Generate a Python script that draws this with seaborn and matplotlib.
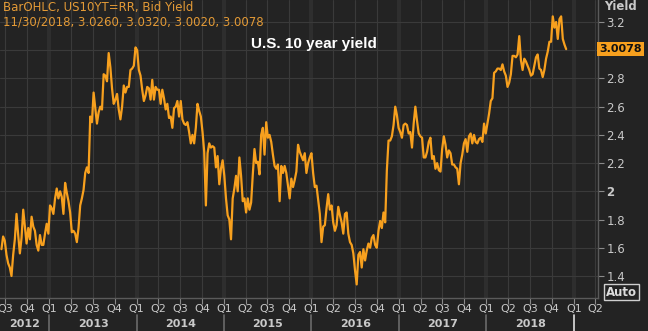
import matplotlib
matplotlib.use("Agg")
import matplotlib.pyplot as plt
import matplotlib.transforms as mtransforms
import numpy as np
import pandas as pd
import seaborn as sns

# Weekly (Friday) closes of the US 10-year Treasury bid yield, per calendar year
y2012 = [1.59, 1.68, 1.65,
         1.55, 1.49, 1.46, 1.40,
         1.55, 1.66, 1.84, 1.69, 1.56,
         1.67, 1.87, 1.75, 1.63,
         1.74, 1.66, 1.82, 1.75,
         1.72, 1.62, 1.58, 1.69, 1.62,
         1.62, 1.70, 1.77, 1.70]
y2013 = [1.90, 1.88, 1.84, 1.95,
         2.02, 1.95, 2.00, 1.96,
         1.84, 2.06, 1.99, 1.93, 1.85,
         1.71, 1.72, 1.70, 1.64,
         1.74, 1.90, 1.95, 2.01, 2.13,
         2.17, 2.13, 2.53, 2.49,
         2.70, 2.59, 2.48, 2.56,
         2.60, 2.58, 2.83, 2.82, 2.78,
         2.98, 2.88, 2.73, 2.62,
         2.65, 2.69, 2.58, 2.51,
         2.60, 2.75, 2.70, 2.74, 2.74,
         2.86, 2.87, 2.89, 3.02]
y2014 = [3.00, 2.86, 2.82, 2.72, 2.64,
         2.68, 2.74, 2.73, 2.65,
         2.79, 2.65, 2.74, 2.72,
         2.72, 2.62, 2.72, 2.66,
         2.58, 2.62, 2.52, 2.53, 2.45,
         2.59, 2.60, 2.64, 2.53,
         2.64, 2.51, 2.48, 2.47,
         2.49, 2.42, 2.34, 2.40, 2.34,
         2.45, 2.62, 2.57, 2.53,
         2.42, 2.28, 1.90, 2.27, 2.34,
         2.31, 2.32, 2.31, 2.17,
         2.25, 2.05, 2.16, 2.22]
y2015 = [2.11, 1.95, 1.83, 1.80, 1.66,
         1.95, 2.02, 2.11, 2.00,
         2.24, 2.11, 1.93, 1.95,
         1.85, 1.95, 1.87, 1.92,
         2.12, 2.30, 2.20, 2.21, 2.12,
         2.40, 2.45, 2.26, 2.49,
         2.38, 2.40, 2.35, 2.26, 2.18,
         2.16, 2.19, 1.93, 2.18,
         2.13, 2.18, 2.13, 2.04,
         1.95, 2.09, 2.03, 2.08, 2.14,
         2.33, 2.28, 2.25, 2.22,
         2.27, 2.13, 2.20, 2.24]
y2016 = [2.27, 2.13, 2.03, 2.04, 1.94,
         1.84, 1.64, 1.75, 1.76,
         1.88, 1.98, 1.87, 1.90,
         1.78, 1.72, 1.76, 1.89, 1.83,
         1.78, 1.70, 1.84, 1.85,
         1.70, 1.64, 1.62, 1.56,
         1.44, 1.34, 1.55, 1.57, 1.46,
         1.59, 1.51, 1.58, 1.63,
         1.60, 1.67, 1.69, 1.62, 1.60,
         1.72, 1.79, 1.74, 1.85,
         1.78, 2.15, 2.36, 2.36,
         2.39, 2.47, 2.60, 2.54, 2.45]
y2017 = [2.42, 2.38, 2.47, 2.48,
         2.47, 2.41, 2.42, 2.31,
         2.48, 2.60, 2.50, 2.41, 2.39,
         2.38, 2.24, 2.24, 2.28,
         2.35, 2.38, 2.23, 2.25,
         2.16, 2.20, 2.15, 2.14, 2.30,
         2.39, 2.33, 2.24, 2.29,
         2.27, 2.19, 2.19, 2.17,
         2.16, 2.05, 2.20, 2.26, 2.34,
         2.37, 2.28, 2.39, 2.41,
         2.34, 2.40, 2.35, 2.34,
         2.37, 2.38, 2.35, 2.48, 2.41]
y2018 = [2.48, 2.55, 2.64, 2.66,
         2.84, 2.85, 2.87, 2.87,
         2.86, 2.90, 2.85, 2.82, 2.74,
         2.77, 2.83, 2.96, 2.96,
         2.95, 2.97, 3.10, 2.93,
         2.86, 2.94, 2.92, 2.89, 2.86,
         2.82, 2.83, 2.89, 2.95,
         2.97, 2.87, 2.86, 2.81, 2.86,
         2.94, 2.99, 3.06, 3.06,
         3.24, 3.16, 3.20, 3.08,
         3.22, 3.24, 3.08, 3.04, 3.0078]

year_spans = [("2012-06-15", "2012-12-31", y2012),
              ("2013-01-01", "2013-12-31", y2013),
              ("2014-01-01", "2014-12-31", y2014),
              ("2015-01-01", "2015-12-31", y2015),
              ("2016-01-01", "2016-12-31", y2016),
              ("2017-01-01", "2017-12-31", y2017),
              ("2018-01-01", "2018-11-30", y2018)]

header_lines = ["BarOHLC, US10YT=RR, Bid Yield",
                "11/30/2018, 3.0260, 3.0320, 3.0020, 3.0078"]
title = "U.S. 10 year yield"
y_ticks = [1.4, 1.6, 1.8, 2.0, 2.2, 2.4, 2.6, 2.8, 3.0, 3.2]
years = [2012, 2013, 2014, 2015, 2016, 2017, 2018]

frames = []
for start, end, vals in year_spans:
    d = pd.date_range(start, end, freq="W-FRI")
    assert len(d) == len(vals), (start, len(d), len(vals))
    frames.append(pd.DataFrame({"date": d, "yield": vals}))
df = pd.concat(frames, ignore_index=True)

BG = "#232323"
GRID = "#3a3a3a"
YEARGRID = "#2e2e2e"
ORANGE = "#f7a01e"
TXT = "#c9c9c9"
SPINE = "#5a5a5a"

sns.set_theme(style="dark")
plt.rcParams["font.family"] = ["DejaVu Sans"]

W, H = 648, 331
fig = plt.figure(figsize=(W / 100, H / 100), dpi=100, facecolor=BG)
ax = fig.add_axes([0, 33 / H, 598 / W, 298 / H], facecolor=BG)

x0, x1 = pd.Timestamp("2012-06-09"), pd.Timestamp("2019-04-12")
ax.set_xlim(x0, x1)
ax.set_ylim(1.244, 3.356)

# gridlines: quarter starts thin, year starts as a wider band
quarters = pd.date_range("2012-07-01", "2019-04-01", freq="QS")
year_starts = pd.date_range("2013-01-01", "2019-01-01", freq="YS")
for q in quarters:
    if q.month == 1:
        ax.axvline(q, color=YEARGRID, lw=3.0, zorder=0)
    else:
        ax.axvline(q, color=GRID, lw=0.8, zorder=0)
for yv in y_ticks:
    ax.axhline(yv, color=GRID, lw=0.8, zorder=0)

sns.lineplot(data=df, x="date", y="yield", ax=ax, color=ORANGE,
             lw=1.6, zorder=3, legend=False)

ax.grid(False)
ax.set_xlabel("")
ax.set_ylabel("")
for s in ("top", "left"):
    ax.spines[s].set_visible(False)
for s in ("right", "bottom"):
    ax.spines[s].set_visible(True)
    ax.spines[s].set_color(SPINE)
    ax.spines[s].set_linewidth(1.0)

# right-hand yield scale
ax.yaxis.tick_right()
ax.set_yticks(y_ticks)
ylabels = []
for v in y_ticks:
    if abs(v - 3.0) < 1e-9:
        ylabels.append("")
    elif abs(v - round(v)) < 1e-9:
        ylabels.append(f"{int(round(v))}")
    else:
        ylabels.append(f"{v:.1f}")
ax.set_yticklabels(ylabels)
ax.tick_params(axis="y", right=True, left=False, length=4, width=0.8,
               color="#8a8a8a", labelcolor=TXT, labelsize=8.5, pad=2)
for lab in ax.get_yticklabels():
    if lab.get_text() == "2":
        lab.set_fontweight("bold")

# quarter ticks along the date axis
ax.set_xticks(quarters)
ax.set_xticklabels([f"Q{(q.month - 1) // 3 + 1}" for q in quarters])
ax.tick_params(axis="x", bottom=True, length=4, width=0.8, color="#8a8a8a",
               labelcolor=TXT, labelsize=8, pad=0.5)

# year captions and separators under the quarter row
tr = mtransforms.blended_transform_factory(ax.transData, ax.transAxes)
for yr in years:
    a = max(pd.Timestamp(f"{yr}-01-01"), x0)
    b = min(pd.Timestamp(f"{yr + 1}-01-01"), x1)
    mid = a + (b - a) / 2
    ax.text(mid, -(324 - 298) / 298, str(yr), transform=tr, ha="center",
            va="center", fontsize=8, fontweight="bold", color=TXT)
for ys in year_starts:
    col = "#e0e0e0" if ys.year == 2019 else "#6a6a6a"
    ax.plot([ys, ys], [-(315 - 298) / 298, -(332 - 298) / 298], transform=tr,
            color=col, lw=1.2, clip_on=False)

# last value marker on the scale
last_val = df["yield"].iloc[-1]
tr_y = mtransforms.blended_transform_factory(ax.transAxes, ax.transData)
ax.text(1.0 + 1.5 / 598, last_val, f"{last_val:.4f}", transform=tr_y,
        ha="left", va="center", fontsize=8, fontweight="bold", color="#111111",
        bbox=dict(boxstyle="square,pad=0.2", fc=ORANGE, ec="none"), zorder=5)

# header texts
fig.text(3 / W, 1 - 8 / H, header_lines[0], ha="left", va="center",
         fontsize=8.5, color="#e39a36")
fig.text(3 / W, 1 - 22 / H, header_lines[1], ha="left", va="center",
         fontsize=8.5, color="#e39a36")
fig.text(314 / W, 1 - 44 / H, title, ha="center", va="center", fontsize=11,
         fontweight="bold", color="white", family=["Liberation Sans", "DejaVu Sans"])
fig.text(604 / W, 1 - 6 / H, "Yield", ha="left", va="center", fontsize=8.5,
         fontweight="bold", color=TXT)
fig.text(606 / W, 1 - 292 / H, "Auto", ha="left", va="center", fontsize=8.5,
         fontweight="bold", color="#dddddd",
         bbox=dict(boxstyle="square,pad=0.15", fc="none", ec="#cfcfcf", lw=1))

fig.savefig("out.png", dpi=100, facecolor=BG)
